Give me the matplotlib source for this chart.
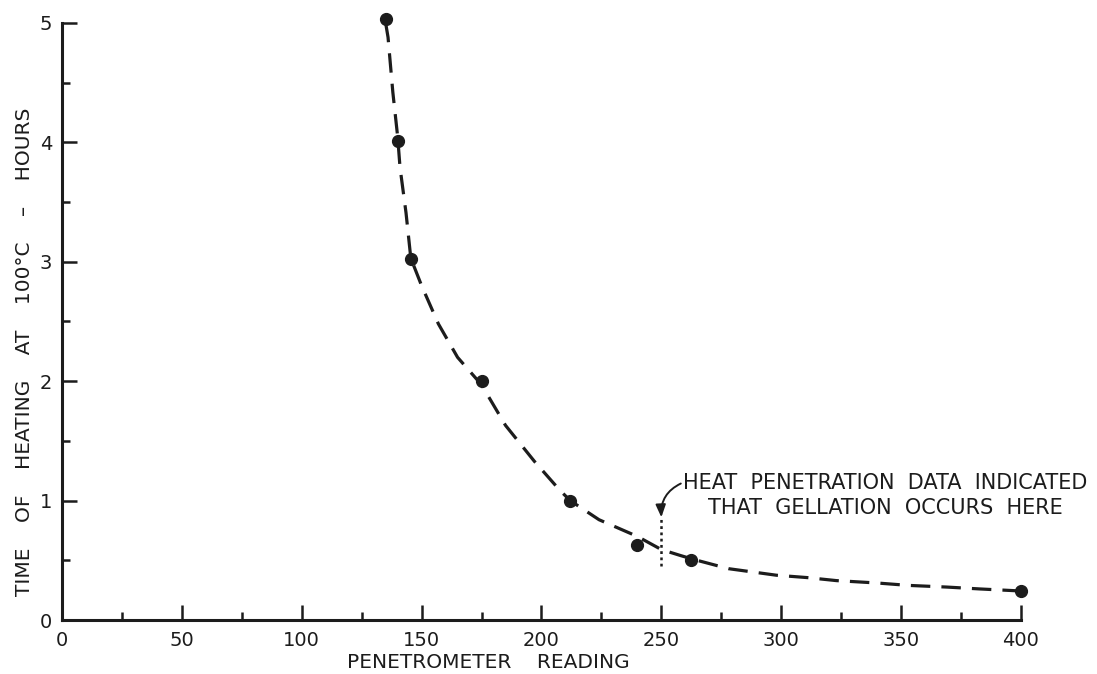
import numpy as np
import matplotlib
matplotlib.use("Agg")
import matplotlib.pyplot as plt

# measured points: penetrometer reading vs heating time at 100 C
reading = [135, 140, 145.5, 175, 212, 240, 262.5, 400]
hours = [5.03, 4.01, 3.02, 2.0, 1.0, 0.63, 0.50, 0.245]

# hand-drawn trend line through the measurements
curve_x = [135, 136, 138, 140, 141, 143.5, 145.5, 150, 157, 165, 175, 185,
           197, 207.5, 212, 224, 240, 250, 258, 263, 278, 298, 311, 323,
           340, 353, 369, 383, 400]
curve_y = [5.0, 4.88, 4.42, 4.05, 3.79, 3.41, 3.03, 2.8, 2.48, 2.2, 1.97, 1.63,
           1.33, 1.09, 1.0, 0.84, 0.70, 0.59, 0.54, 0.51, 0.43, 0.375, 0.355, 0.33,
           0.31, 0.29, 0.276, 0.26, 0.243]

xticks = [0, 50, 100, 150, 200, 250, 300, 350, 400]
yticks = [0, 1, 2, 3, 4, 5]

ink = "#1c1c1c"
plt.rcParams["font.family"] = ["DejaVu Sans"]
plt.rcParams["lines.scale_dashes"] = False

fig = plt.figure(figsize=(10.97, 6.74), dpi=100)
ax = fig.add_axes([0.0565, 0.0801, 0.8742, 0.8858])

ax.plot(curve_x, curve_y, color=ink, lw=2.3, dashes=(14, 8),
        solid_capstyle="butt", dash_capstyle="butt", clip_on=False)
ax.plot(reading, hours, "o", color=ink, ms=8.5, clip_on=False, zorder=3)

# gelation marker
ax.plot([250, 250], [0.45, 0.86], color=ink, lw=1.8, ls=(0, (2, 2.5)))
ax.annotate("HEAT  PENETRATION  DATA  INDICATED\nTHAT  GELLATION  OCCURS  HERE",
            xy=(250, 0.86), xytext=(343.5, 1.04), ha="center", va="center",
            fontsize=15, color=ink, linespacing=1.3,
            arrowprops=dict(arrowstyle="-|>,head_length=0.5,head_width=0.2",
                            color=ink, lw=1.4, shrinkA=2, shrinkB=0,
                            connectionstyle="arc3,rad=0.35",
                            patchA=None, relpos=(0.0, 0.8)))

ax.set_xlim(0, 400)
ax.set_ylim(0, 5)
ax.set_xticks(xticks)
ax.set_xticks(np.arange(25, 400, 50), minor=True)
ax.set_yticks(yticks)
ax.set_yticks(np.arange(0.5, 5, 1.0), minor=True)
ax.set_xticklabels([str(v) for v in xticks])
ax.set_yticklabels([str(v) for v in yticks])

for side in ["top", "right"]:
    ax.spines[side].set_visible(False)
for side in ["left", "bottom"]:
    ax.spines[side].set_linewidth(2.2)
    ax.spines[side].set_color(ink)
    ax.spines[side].set_capstyle("projecting")

ax.tick_params(which="major", direction="in", length=10.5, width=1.8,
               colors=ink, labelsize=14)
ax.tick_params(which="minor", direction="in", length=5.5, width=1.8, colors=ink)
ax.tick_params(axis="x", which="major", pad=8)
ax.tick_params(axis="y", which="major", pad=7)

fig.text(0.445, 0.0165, "PENETROMETER    READING", ha="center", va="center",
         fontsize=14.5, color=ink)
fig.text(0.022, 0.478, "TIME    OF    HEATING    AT    100°C    –    HOURS",
         rotation=90, ha="center", va="center", fontsize=14.5, color=ink)

fig.savefig("out.png", dpi=100, facecolor="white")
